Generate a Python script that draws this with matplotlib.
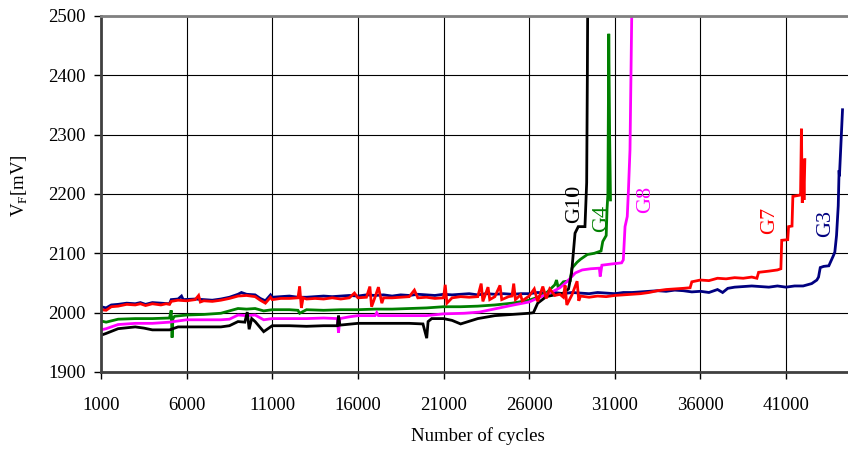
import matplotlib
matplotlib.use("Agg")
import matplotlib.pyplot as plt

plt.rcParams['font.family'] = ['Liberation Serif', 'DejaVu Serif']
plt.rcParams['mathtext.fontset'] = 'custom'
plt.rcParams['mathtext.rm'] = 'Liberation Serif'

# G3 (navy)
g3_x = [1000, 1300, 1600, 2000, 2500, 3000, 3300, 3600, 4000, 4500, 5000, 5100, 5500, 5700, 5800,
        6500, 7000, 7500, 8000, 8500, 9000, 9200, 9500, 10000, 10300, 10600, 10900, 11000, 11500,
        12000, 12500, 13000, 13500, 14000, 14500, 15000, 15500, 16000, 16500, 17000, 17500, 18000,
        18500, 19000, 19500, 20000, 20500, 21000, 21500, 22000, 22500, 23000, 23500, 24000, 24500,
        25000, 25500, 26000, 26500, 27000, 27500, 28000, 28500, 29000, 29500, 30000, 30500, 31000,
        31500, 32000, 32500, 33000, 33500, 34000, 34500, 35000, 35500, 36000, 36500, 37000, 37300,
        37600, 38000, 38500, 39000, 39500, 40000, 40500, 41000, 41500, 42000, 42500, 42800, 42900,
        43000, 43200, 43500, 43750, 43850, 43950, 44050, 44100, 44120, 44200, 44300]
g3_y = [2010, 2008, 2013, 2014, 2016, 2015, 2017, 2014, 2017, 2016, 2015, 2022, 2023, 2028, 2022,
        2023, 2022, 2021, 2023, 2026, 2031, 2034, 2031, 2030, 2024, 2020, 2030, 2026, 2027,
        2028, 2026, 2026, 2027, 2028, 2027, 2028, 2029, 2028, 2030, 2029, 2030, 2028,
        2030, 2029, 2031, 2030, 2029, 2031, 2030, 2031, 2032, 2030, 2032, 2031, 2032,
        2031, 2032, 2032, 2034, 2033, 2034, 2032, 2034, 2033, 2032, 2034, 2033, 2032,
        2034, 2034, 2035, 2036, 2037, 2036, 2038, 2037, 2035, 2036, 2034, 2039, 2034,
        2041, 2043, 2044, 2045, 2044, 2043, 2045, 2043, 2045, 2045, 2049, 2055, 2060,
        2076, 2078, 2079, 2095, 2102, 2130, 2180, 2240, 2230, 2280, 2342]

# G7 (red)
g7_x = [1000, 1300, 1600, 2000, 2500, 3000, 3300, 3600, 4000, 4500, 4800, 5000, 5100, 5500, 6000,
        6500, 6700, 6800, 7000, 7500, 8000, 8500, 9000, 9500, 10000, 10300, 10600, 10900, 11000,
        11500, 12000, 12500, 12600, 12700, 12800, 13000, 13500, 14000, 14500, 15000, 15500, 15800,
        16000, 16500, 16700, 16800, 17000, 17200, 17400, 17500, 18000, 18500, 19000, 19300, 19500,
        20000, 20500, 21000, 21100, 21200, 21500, 22000, 22500, 23000, 23200, 23300, 23600, 23700,
        24000, 24300, 24400, 24800, 25000, 25100, 25200, 25500, 25600, 26000, 26300, 26500, 26800,
        27000, 27200, 27500, 27800, 28000, 28100, 28200, 28500, 28800, 28900, 29000, 29500, 30000,
        30500, 31000, 31500, 32000, 32500, 33000, 33500, 34000, 34500, 35000, 35400, 35500, 36000,
        36500, 37000, 37500, 38000, 38500, 39000, 39300, 39400, 40000, 40500, 40700, 40750, 41100,
        41150, 41350, 41400, 41800, 41850, 41900, 41950, 42000, 42050, 42100]
g7_y = [2005, 2004, 2010, 2011, 2014, 2013, 2015, 2012, 2015, 2013, 2015, 2014, 2019, 2021, 2020,
        2022, 2029, 2018, 2020, 2019, 2021, 2024, 2028, 2029, 2027, 2021, 2016, 2026, 2022,
        2024, 2024, 2025, 2044, 2008, 2025, 2023, 2024, 2023, 2025, 2023, 2025, 2033,
        2025, 2026, 2044, 2010, 2026, 2043, 2016, 2025, 2025, 2026, 2027, 2038, 2025,
        2026, 2024, 2025, 2047, 2016, 2025, 2027, 2026, 2027, 2049, 2019, 2043, 2022,
        2027, 2046, 2022, 2027, 2028, 2049, 2022, 2030, 2020, 2028, 2040, 2019, 2044,
        2024, 2040, 2029, 2031, 2026, 2046, 2013, 2030, 2053, 2020, 2028, 2026, 2028,
        2027, 2029, 2030, 2031, 2032, 2034, 2037, 2039, 2040, 2041, 2042, 2052, 2055,
        2054, 2058, 2057, 2059, 2058, 2060, 2058, 2068, 2070, 2072, 2074, 2122, 2123,
        2145, 2146, 2196, 2198, 2200, 2310, 2185, 2258, 2190, 2258]

# G4 (green)
g4_x = [1000, 1300, 2000, 3000, 4000, 5000, 5100, 5150, 5200, 5300, 6000, 7000, 8000, 8500, 9000,
        9500, 10000, 10500, 11000, 12000, 12500, 12600, 13000, 14000, 15000, 16000, 17000, 18000,
        19000, 20000, 21000, 22000, 23000, 24000, 25000, 26000, 26500, 27000, 27500, 27600, 27700,
        28000, 28400, 28500, 28800, 29000, 29400, 29800, 30200, 30300, 30500, 30550, 30600, 30650,
        30700, 30750]
g4_y = [1986, 1984, 1989, 1990, 1990, 1991, 2004, 1958, 1990, 1994, 1996, 1997, 1999, 2003, 2007,
        2006, 2007, 2003, 2005, 2005, 2004, 1999, 2005, 2004, 2005, 2005, 2006, 2006,
        2007, 2008, 2010, 2010, 2011, 2013, 2016, 2021, 2026, 2033, 2047, 2055, 2042,
        2052, 2054, 2075, 2085, 2090, 2098, 2100, 2104, 2120, 2130, 2175, 2200, 2470,
        2300, 2190]

# G8 (magenta)
g8_x = [1000, 1300, 2000, 3000, 4000, 5000, 6000, 7000, 8000, 8500, 9000, 9500, 10000, 10500,
        11000, 12000, 13000, 14000, 14800, 14870, 14950, 15500, 16000, 17000, 17100, 17200, 18000,
        19000, 20000, 21000, 22200, 23100, 24100, 25100, 26000, 27000, 27400, 27800, 28200, 28500,
        28700, 29100, 29600, 30100, 30150, 30250, 30800, 31400, 31500, 31600, 31730, 31800, 31890,
        32000]
g8_y = [1971, 1973, 1980, 1982, 1982, 1984, 1988, 1988, 1988, 1989, 1996, 1995, 1996, 1988,
        1990, 1990, 1990, 1991, 1990, 1966, 1990, 1993, 1995, 1995, 2000, 1995, 1995,
        1995, 1995, 1998, 1999, 2001, 2007, 2013, 2018, 2031, 2036, 2042, 2052, 2061,
        2067, 2072, 2074, 2075, 2061, 2080, 2082, 2084, 2089, 2145, 2162, 2207, 2275,
        2520]

# G10 (black)
g10_x = [1000, 1300, 2000, 3000, 3500, 4000, 5000, 5500, 6500, 8000, 8500, 9000, 9400, 9540, 9650,
         9800, 10000, 10500, 11000, 12000, 13000, 14000, 14800, 14870, 14950, 16000, 17000, 18000,
         19000, 19800, 20020, 20100, 20310, 21000, 21500, 22000, 23000, 24000, 25000, 26000, 26250,
         26500, 27000, 27500, 28000, 28300, 28480, 28680, 28870, 29260, 29360, 29400, 29420]
g10_y = [1962, 1965, 1973, 1976, 1974, 1971, 1971, 1976, 1976, 1976, 1978, 1985, 1984, 2001, 1972,
         1990, 1985, 1968, 1978, 1978, 1977, 1978, 1978, 1995, 1979, 1982, 1982, 1982,
         1982, 1981, 1957, 1985, 1990, 1990, 1987, 1981, 1990, 1995, 1997, 1999, 2000,
         2016, 2027, 2030, 2033, 2040, 2067, 2134, 2145, 2145, 2219, 2400, 2520]

series = [
    (g3_x, g3_y, '#000080'),
    (g4_x, g4_y, '#008000'),
    (g8_x, g8_y, '#ff00ff'),
    (g10_x, g10_y, '#000000'),
    (g7_x, g7_y, '#ff0000'),
]

labels = ['G10', 'G4', 'G8', 'G7', 'G3']
label_x = [28680, 30250, 32820, 40060, 43330]
label_y = [2184, 2158, 2190, 2155, 2150]
label_colors = ['#000000', '#008000', '#ff00ff', '#ff0000', '#000080']

fig = plt.figure(figsize=(8.48, 4.5), dpi=100)
ax = fig.add_axes([101 / 848, 78 / 450, 747 / 848, 356 / 450])

for xs, ys, c in series:
    ax.plot(xs, ys, color=c, linewidth=2.0, solid_joinstyle='miter')

for t, x, y, c in zip(labels, label_x, label_y, label_colors):
    ax.text(x, y, t, color=c, fontsize=16, rotation=90, ha='center', va='center')

ax.set_xlim(1000, 44620)
ax.set_ylim(1900, 2500)
ax.set_xticks(range(1000, 41001, 5000))
ax.set_yticks(range(1900, 2501, 100))
ax.grid(True, color='black', linewidth=0.8)
ax.set_axisbelow(True)
ax.tick_params(direction='out', length=5, width=1, labelsize=13.5, pad=6)
ax.tick_params(axis='x', pad=13)

ax.spines['right'].set_visible(False)
ax.spines['top'].set_color('#808080')
ax.spines['top'].set_linewidth(2)
ax.spines['left'].set_color('#404040')
ax.spines['left'].set_linewidth(2)
ax.spines['bottom'].set_color('#404040')
ax.spines['bottom'].set_linewidth(2)

ax.set_xlabel("Number of cycles", fontsize=13.5)
ax.set_ylabel(r"V$_\mathregular{F}$[mV]", fontsize=13.5)
ax.xaxis.set_label_coords(0.505, -0.155)
ax.yaxis.set_label_coords(-0.095, 0.525)

fig.savefig("out.png", dpi=100)
plt.close(fig)
